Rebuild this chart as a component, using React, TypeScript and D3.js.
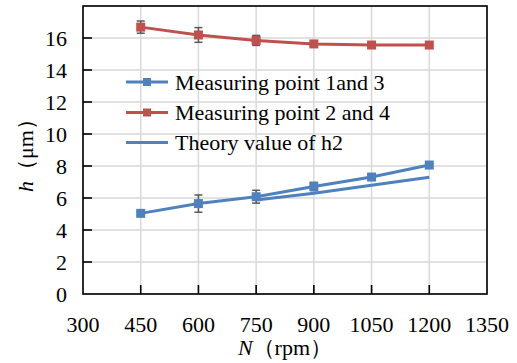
import React, { useEffect, useRef } from "react";
import * as d3 from "d3";

const rpm = [450, 600, 750, 900, 1050, 1200];
const point13 = [5.04, 5.65, 6.08, 6.72, 7.31, 8.06];
const point13Err = [0.1, 0.54, 0.4, 0.26, 0.12, 0.1];
const point24 = [16.68, 16.19, 15.85, 15.63, 15.56, 15.56];
const point24Err = [0.38, 0.46, 0.31, 0.12, 0.08, 0.08];
const theoryRpm = [750, 900, 1050, 1200];
const theoryH2 = [5.87, 6.3, 6.8, 7.29];
const xTicks = [300, 450, 600, 750, 900, 1050, 1200, 1350];
const yTicks = [0, 2, 4, 6, 8, 10, 12, 14, 16];
const yGrid = [0, 2, 4, 6, 8, 10, 12, 14, 16, 18];
const legendLabels = ["Measuring point 1and 3", "Measuring point 2 and 4", "Theory value of h2"];

const BLUE = "#4F81BD";
const RED = "#C0504D";
const GRID = "#D9D9D9";
const ERR = "#595959";
const FONT = "Liberation Serif";

export default function App() {
  const ref = useRef<SVGSVGElement | null>(null);
  useEffect(() => {
    const W = 517, H = 363;
    const L = 83, R = 487, T = 6, B = 294;
    const svg = d3.select(ref.current as SVGSVGElement);
    svg.selectAll("*").remove();
    svg.append("style").text(
      `svg text, svg tspan { font-family: "${FONT}" !important; font-size: 22px !important; }
       svg tspan.it { font-style: italic !important; }`
    );
    const x = d3.scaleLinear().domain([300, 1350]).range([L, R]);
    const y = d3.scaleLinear().domain([0, 18]).range([B, T]);
    const line = d3.line<[number, number]>().x(d => x(d[0])).y(d => y(d[1]));

    svg.append("rect").attr("width", W).attr("height", H).attr("fill", "#fff");
    const g = svg.append("g");
    g.selectAll(".gx").data(xTicks).enter().append("line")
      .attr("x1", d => x(d)).attr("x2", d => x(d)).attr("y1", T).attr("y2", B)
      .attr("stroke", GRID).attr("stroke-width", 1.5);
    g.selectAll(".gy").data(yGrid).enter().append("line")
      .attr("x1", L).attr("x2", R).attr("y1", d => y(d)).attr("y2", d => y(d))
      .attr("stroke", GRID).attr("stroke-width", 1.5);
    g.append("rect").attr("x", L).attr("y", T).attr("width", R - L).attr("height", B - T)
      .attr("fill", "none").attr("stroke", "#000").attr("stroke-width", 1.6);
    g.selectAll(".tx").data(xTicks.slice(1, -1)).enter().append("line")
      .attr("x1", d => x(d)).attr("x2", d => x(d)).attr("y1", B).attr("y2", B - 9)
      .attr("stroke", "#000").attr("stroke-width", 1.6);
    g.selectAll(".ty").data(yTicks.slice(1)).enter().append("line")
      .attr("x1", L).attr("x2", L + 9).attr("y1", d => y(d)).attr("y2", d => y(d))
      .attr("stroke", "#000").attr("stroke-width", 1.6);

    const txt = (sel: any) => sel
      .attr("font-family", FONT).attr("font-size", 22).attr("fill", "#000")
      .style("font-family", FONT, "important").style("font-size", "22px", "important");
    g.selectAll(".lx").data(xTicks).enter().append("text")
      .attr("x", d => x(d)).attr("y", 332).attr("text-anchor", "middle").call(txt).text(d => String(d));
    g.selectAll(".ly").data(yTicks).enter().append("text")
      .attr("x", 67).attr("y", d => y(d) + 7.5).attr("text-anchor", "end").call(txt).text(d => String(d));

    const xl = g.append("text").attr("x", 285).attr("y", 355).attr("text-anchor", "middle").call(txt);
    xl.append("tspan").attr("class", "it").attr("font-style", "italic").text("N");
    xl.append("tspan").text("（rpm）");
    const yl = g.append("text").attr("transform", `translate(33,${(T + B) / 2}) rotate(-90)`)
      .attr("text-anchor", "middle").call(txt);
    yl.append("tspan").attr("class", "it").attr("font-style", "italic").text("h");
    yl.append("tspan").text("（μm）");

    g.append("path").attr("d", line(theoryRpm.map((r, i) => [r, theoryH2[i]] as [number, number])) || "")
      .attr("fill", "none").attr("stroke", BLUE).attr("stroke-width", 3);

    const series = [
      { vals: point13, err: point13Err, color: BLUE },
      { vals: point24, err: point24Err, color: RED },
    ];
    series.forEach(s => {
      const pts = rpm.map((r, i) => ({ r, v: s.vals[i], e: s.err[i] }));
      g.append("path").attr("d", line(pts.map(p => [p.r, p.v] as [number, number])) || "")
        .attr("fill", "none").attr("stroke", s.color).attr("stroke-width", 3);
      const eg = g.append("g").attr("stroke", ERR).attr("stroke-width", 1.5);
      pts.forEach(p => {
        eg.append("line").attr("x1", x(p.r)).attr("x2", x(p.r)).attr("y1", y(p.v - p.e)).attr("y2", y(p.v + p.e));
        eg.append("line").attr("x1", x(p.r) - 4).attr("x2", x(p.r) + 4).attr("y1", y(p.v - p.e)).attr("y2", y(p.v - p.e));
        eg.append("line").attr("x1", x(p.r) - 4).attr("x2", x(p.r) + 4).attr("y1", y(p.v + p.e)).attr("y2", y(p.v + p.e));
      });
      g.selectAll(null).data(pts).enter().append("rect")
        .attr("x", p => x(p.r) - 4.5).attr("y", p => y(p.v) - 4.5).attr("width", 9).attr("height", 9)
        .attr("fill", s.color);
    });

    const legendX0 = 126, legendX1 = 168;
    const legendYs = [82, 112.5, 142.5];
    const legendColors = [BLUE, RED, BLUE];
    legendLabels.forEach((lab, i) => {
      g.append("line").attr("x1", legendX0).attr("x2", legendX1).attr("y1", legendYs[i]).attr("y2", legendYs[i])
        .attr("stroke", legendColors[i]).attr("stroke-width", 3);
      if (i < 2) {
        g.append("rect").attr("x", (legendX0 + legendX1) / 2 - 4).attr("y", legendYs[i] - 4)
          .attr("width", 8).attr("height", 8).attr("fill", legendColors[i]);
      }
      g.append("text").attr("x", 175).attr("y", legendYs[i] + 7.5).call(txt).text(lab);
    });
  }, []);

  return (
    <svg ref={ref} width={517} height={363} style={{ position: "absolute", left: 0, top: 0 }} />
  );
}
